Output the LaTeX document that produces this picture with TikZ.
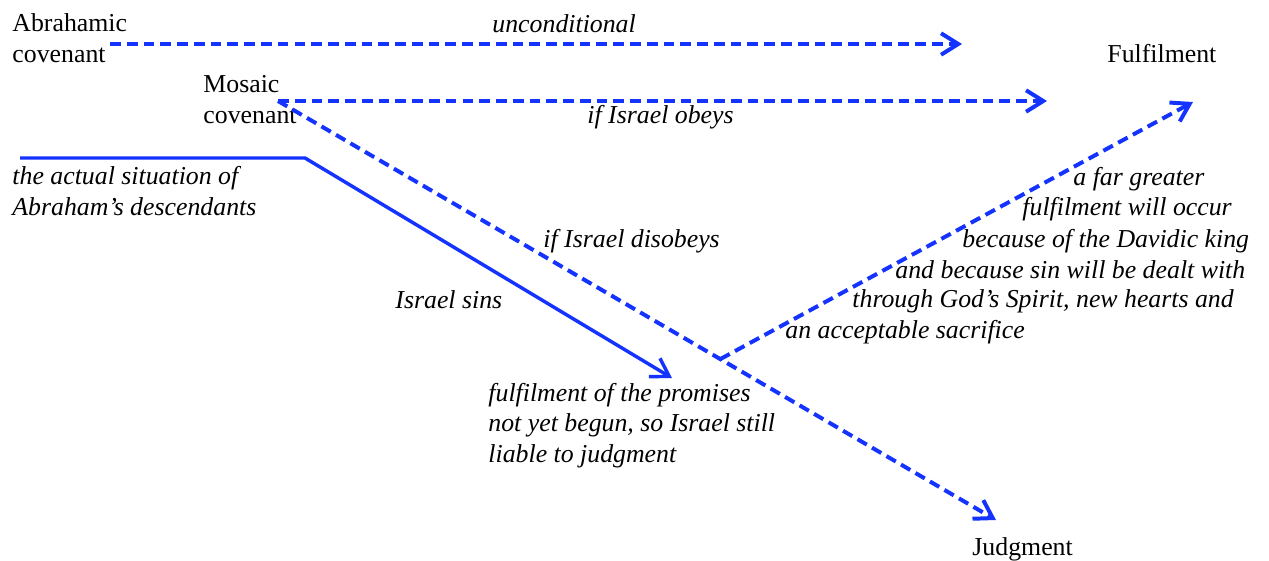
\documentclass[tikz,border=0pt]{standalone}
\usepackage{fontspec}
\setmainfont{Liberation Serif}
\usetikzlibrary{arrows.meta,calc}
\definecolor{covblue}{HTML}{1533FF}

\begin{document}
\begin{tikzpicture}[x=0.465pt,y=-0.465pt,
    covline/.style={covblue, line width=1.6pt},
    promise/.style={covline, line width=1.85pt, dash pattern=on 5pt off 2.8pt},
    barb/.style={-{Straight Barb[length=8pt,width=10pt]}},
    word/.style={inner sep=0pt, anchor=base west, align=left, font=\fontsize{12}{14}\selectfont},
    note/.style={word, font=\fontsize{12}{14}\selectfont\itshape}]
  \useasboundingbox (0,0) rectangle (1269,561);

  % where the lines start, bend and end
  \coordinate (abr-from) at (110,44);
  \coordinate (abr-to) at (962,44);
  \coordinate (mos-from) at (278,101);
  \coordinate (mos-to) at (1047,101);
  \coordinate (judg-to) at (996,520);
  \coordinate (turn) at ($(mos-from)!0.616!(judg-to)$);
  \coordinate (ful-to) at (1193,102);
  \coordinate (act-from) at (20,158);
  \coordinate (act-bend) at (305,158);
  \coordinate (act-to) at (672,378);

  % covenants and outcomes (base = last line)
  \node[word] (abraham) at (12,62) {Abrahamic\\covenant};
  \node[word] (moses) at (203,123) {Mosaic\\covenant};
  \node[word] (fulfil) at (1107,62) {Fulfilment};
  \node[word] (judgment) at (972,555) {Judgment};

  \draw[promise, barb] (abr-from) -- (abr-to);
  \draw[promise, barb] (mos-from) -- (mos-to);
  \draw[promise, barb] (mos-from) -- (judg-to);
  \draw[promise, barb] (turn) -- (ful-to);
  \draw[covline, barb] (act-from) -- (act-bend) -- (act-to);

  % labels along the lines
  \node[note] (uncond) at (492,32) {unconditional};
  \node[note] (obeys) at (587,123) {if Israel obeys};
  \node[note] (disobeys) at (543,247) {if Israel disobeys};
  \node[note] (sins) at (395,308) {Israel sins};
  \node[note] (actual) at (12,215) {the actual situation of\\Abraham’s descendants};
  \node[note] (notyet) at (488,462) {fulfilment of the promises\\not yet begun, so Israel still\\liable to judgment};

  \node[note] (greater1) at (1073,185) {a far greater};
  \node[note] (greater2) at (1022,215) {fulfilment will occur};
  \node[note] (greater3) at (962,247) {because of the Davidic king};
  \node[note] (greater4) at (895,278) {and because sin will be dealt with};
  \node[note] (greater5) at (852,307) {through God’s Spirit, new hearts and};
  \node[note] (greater6) at (785,338) {an acceptable sacrifice};
\end{tikzpicture}
\end{document}
